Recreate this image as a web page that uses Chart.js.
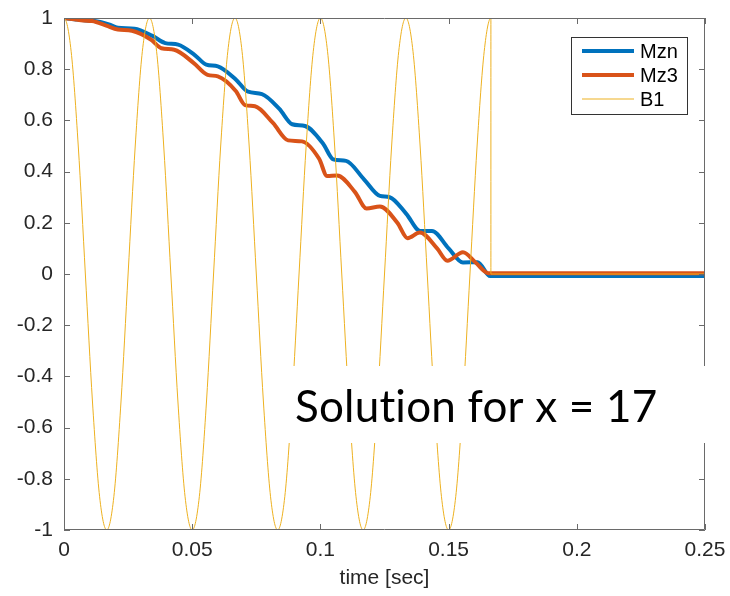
<!DOCTYPE html>
<html lang="en">
  <head>
    <meta charset="UTF-8" />
    <title>Mzn / Mz3 / B1</title>
    <script src="https://cdn.jsdelivr.net/npm/chart.js"></script>
    <style>
      html, body { margin: 0; padding: 0; background: #fff; }
      canvas { display: block; }
    </style>
  </head>
  <body>
    <canvas id="myChart" width="730" height="596"></canvas>
    <script>
      // tick labels
      var xTicks = [0, 0.05, 0.1, 0.15, 0.2, 0.25];
      var yTicks = [-1, -0.8, -0.6, -0.4, -0.2, 0, 0.2, 0.4, 0.6, 0.8, 1];

      // Mzn (blue)
      var mznTime = [0, 0.004, 0.0085, 0.012, 0.0175, 0.021, 0.0275, 0.0345, 0.0395, 0.0445,
        0.051, 0.0555, 0.060, 0.067, 0.0718, 0.0772, 0.084, 0.089, 0.094, 0.101,
        0.105, 0.110, 0.117, 0.1232, 0.127, 0.1335, 0.139, 0.1435, 0.150, 0.1556,
        0.1613, 0.1662, 0.25];
      var mznValue = [1, 0.995, 0.99, 0.988, 0.975, 0.962, 0.958, 0.93, 0.902, 0.896,
        0.855, 0.818, 0.811, 0.76, 0.712, 0.703, 0.645, 0.585, 0.578, 0.51,
        0.448, 0.442, 0.37, 0.305, 0.3, 0.235, 0.168, 0.168, 0.1, 0.045,
        0.046, -0.008, -0.008];

      // Mz3 (orange)
      var mz3Time = [0, 0.004, 0.0075, 0.011, 0.0165, 0.021, 0.0265, 0.034, 0.038, 0.043,
        0.0505, 0.056, 0.060, 0.067, 0.0706, 0.0745, 0.0815, 0.0874, 0.0928, 0.0995,
        0.1026, 0.1065, 0.1135, 0.118, 0.1232, 0.130, 0.134, 0.1388, 0.1455, 0.1495,
        0.1556, 0.1605, 0.1655, 0.25];
      var mz3Value = [1, 0.995, 0.99, 0.988, 0.97, 0.955, 0.95, 0.915, 0.882, 0.876,
        0.825, 0.778, 0.772, 0.715, 0.66, 0.655, 0.59, 0.522, 0.518, 0.45,
        0.383, 0.385, 0.32, 0.256, 0.264, 0.2, 0.14, 0.162, 0.1, 0.052,
        0.085, 0.045, 0.003, 0.003];

      // B1 (yellow)
      var b1Time = [0, 0, 0.00278, 0.00556, 0.00833, 0.01111, 0.01389, 0.01667, 0.01944, 0.02222,
        0.025, 0.02778, 0.03056, 0.03333, 0.03611, 0.03889, 0.04167, 0.04444, 0.04722, 0.05,
        0.05278, 0.05556, 0.05833, 0.06111, 0.06389, 0.06667, 0.06944, 0.07222, 0.075, 0.07778,
        0.08056, 0.08333, 0.08611, 0.08889, 0.09167, 0.09444, 0.09722, 0.1, 0.10278, 0.10556,
        0.10833, 0.11111, 0.11389, 0.11667, 0.11944, 0.12222, 0.125, 0.12778, 0.13056, 0.13333,
        0.13611, 0.13889, 0.14167, 0.14444, 0.14722, 0.15, 0.15278, 0.15556, 0.15833, 0.16111,
        0.16389, 0.1665, 0.1665, 0.25];
      var b1Value = [0, 1, 0.87, 0.5, 0, -0.5, -0.87, -1, -0.87, -0.5,
        0, 0.5, 0.87, 1, 0.87, 0.5, 0, -0.5, -0.87, -1,
        -0.87, -0.5, 0, 0.5, 0.87, 1, 0.87, 0.5, 0, -0.5,
        -0.87, -1, -0.87, -0.5, 0, 0.5, 0.87, 1, 0.87, 0.5,
        0, -0.5, -0.87, -1, -0.87, -0.5, 0, 0.5, 0.87, 1,
        0.87, 0.5, 0, -0.5, -0.87, -1, -0.87, -0.5, 0, 0.5,
        0.87, 1, 0, 0];

      var seriesNames = ["Mzn", "Mz3", "B1"];
      var seriesColors = ["#0072BD", "#D95319", "#EDB120"];
      var seriesWidths = [4, 4, 1];

      function toPoints(xs, ys) {
        var pts = [];
        for (var i = 0; i < xs.length; i++) {
          pts.push({ x: xs[i], y: ys[i] });
        }
        return pts;
      }

      function fmt(v) {
        return String(Number(v.toFixed(2)));
      }

      var axisColor = "#6a6a6a";
      var textColor = "#262626";
      var labelFont = "Liberation Sans";

      // box round the plot + ticks pointing inward, like matlab
      var axesBox = {
        id: "axesBox",
        afterDatasetsDraw: function (chart) {
          var c = chart.ctx;
          var a = chart.chartArea;
          var xs = chart.scales.x;
          var ys = chart.scales.y;
          var tl = 6;
          c.save();
          c.strokeStyle = axisColor;
          c.lineWidth = 1;
          c.beginPath();
          c.rect(a.left + 0.5, a.top + 0.5, a.right - a.left - 1, a.bottom - a.top - 1);
          xTicks.forEach(function (v) {
            var px = Math.round(xs.getPixelForValue(v)) + 0.5;
            c.moveTo(px, a.bottom);
            c.lineTo(px, a.bottom - tl);
            c.moveTo(px, a.top);
            c.lineTo(px, a.top + tl);
          });
          yTicks.forEach(function (v) {
            var py = Math.round(ys.getPixelForValue(v)) + 0.5;
            c.moveTo(a.left, py);
            c.lineTo(a.left + tl, py);
            c.moveTo(a.right, py);
            c.lineTo(a.right - tl, py);
          });
          c.stroke();
          c.restore();
        },
        afterDraw: function (chart) {
          var c = chart.ctx;
          var a = chart.chartArea;
          c.save();
          // text box
          c.fillStyle = "#fff";
          c.fillRect(a.left + 218, 366, a.right - a.left - 208, 77);
          c.fillStyle = "#000";
          c.font = "44px Lato";
          c.letterSpacing = "0.2px";
          c.textBaseline = "alphabetic";
          c.textAlign = "left";
          c.fillText("Solution for x = 17", a.left + 231, 422);
          c.letterSpacing = "0px";

          // legend
          var lx = 571, ly = 37, lw = 116, lh = 77;
          c.fillStyle = "#fff";
          c.fillRect(lx, ly, lw, lh);
          c.strokeStyle = "#333";
          c.lineWidth = 1;
          c.strokeRect(lx + 0.5, ly + 0.5, lw, lh);
          c.font = "20px " + labelFont;
          c.textBaseline = "middle";
          seriesNames.forEach(function (name, i) {
            var yy = ly + 14 + i * 24;
            c.strokeStyle = seriesColors[i];
            c.lineWidth = seriesWidths[i];
            c.beginPath();
            c.moveTo(lx + 11, yy);
            c.lineTo(lx + 63, yy);
            c.stroke();
            c.fillStyle = "#000";
            c.fillText(name, lx + 69, yy + 1);
          });
          c.restore();
        },
      };

      var ctx = document.getElementById("myChart").getContext("2d");

      var sets = [
        toPoints(mznTime, mznValue),
        toPoints(mz3Time, mz3Value),
        toPoints(b1Time, b1Value),
      ];

      new Chart(ctx, {
        type: "line",
        data: {
          datasets: sets.map(function (pts, i) {
            return {
              label: seriesNames[i],
              data: pts,
              borderColor: seriesColors[i],
              borderWidth: seriesWidths[i],
              pointRadius: 0,
              cubicInterpolationMode: "monotone",
              fill: false,
              order: 2 - i,
            };
          }),
        },
        options: {
          responsive: false,
          animation: false,
          events: [],
          layout: { padding: { top: 18, right: 25, left: 0, bottom: 0 } },
          plugins: {
            legend: { display: false },
            tooltip: { enabled: false },
          },
          scales: {
            x: {
              type: "linear",
              min: 0,
              max: 0.25,
              afterBuildTicks: function (s) {
                s.ticks = xTicks.map(function (v) { return { value: v }; });
              },
              afterFit: function (s) {
                s.height = 66;
                s.paddingLeft = 0;
                s.paddingRight = 0;
              },
              grid: { display: false, drawTicks: false },
              border: { display: false },
              ticks: {
                padding: 8,
                maxRotation: 0,
                color: textColor,
                font: { family: labelFont, size: 21 },
                callback: function (v) { return fmt(v); },
              },
              title: {
                display: true,
                text: "time [sec]",
                color: textColor,
                font: { family: labelFont, size: 21 },
                padding: { top: 0, bottom: 5 },
              },
            },
            y: {
              min: -1,
              max: 1,
              afterBuildTicks: function (s) {
                s.ticks = yTicks.map(function (v) { return { value: v }; });
              },
              afterFit: function (s) {
                s.width = 64;
                s.paddingTop = 0;
                s.paddingBottom = 0;
              },
              grid: { display: false, drawTicks: false },
              border: { display: false },
              ticks: {
                padding: 11,
                color: textColor,
                font: { family: labelFont, size: 21 },
                callback: function (v) { return fmt(v); },
              },
            },
          },
        },
        plugins: [axesBox],
      });
    </script>
  </body>
</html>
